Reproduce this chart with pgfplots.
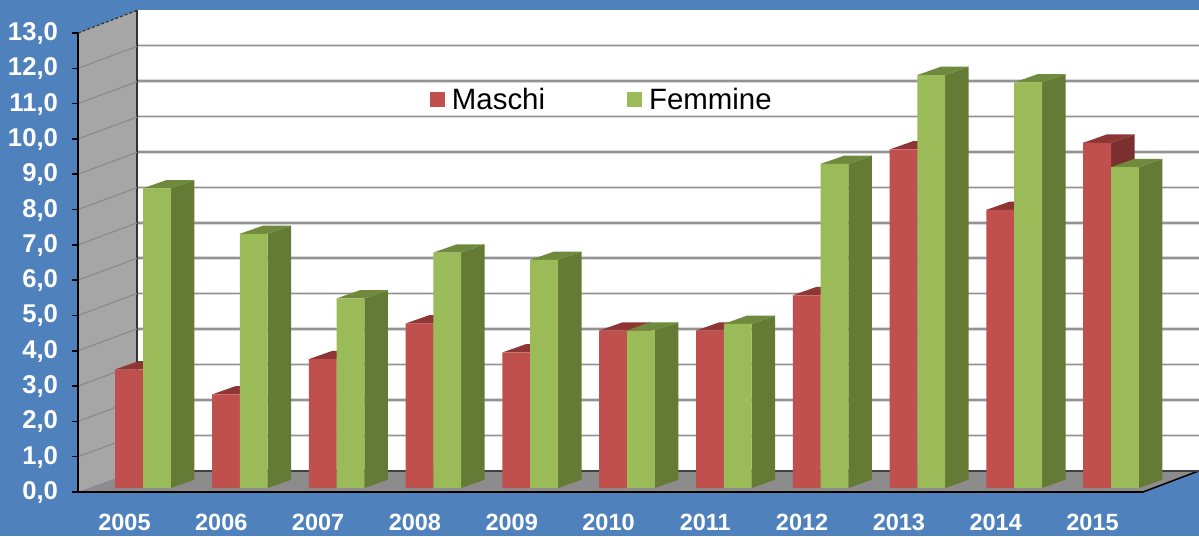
\documentclass[border=0pt]{standalone}
\usepackage{fontspec}
\setmainfont{Liberation Sans}
\usepackage{pgfplots}
\usepackage{pgfplotstable}
\pgfplotsset{compat=1.18}

\definecolor{sfondo}{HTML}{4F81BD}
\definecolor{rosso}{HTML}{C0504D}
\definecolor{rossoS}{HTML}{7B2F2E}
\definecolor{rossoT}{HTML}{8F3634}
\definecolor{verde}{HTML}{9BBB59}
\definecolor{verdeS}{HTML}{647A35}
\definecolor{verdeT}{HTML}{6F8A3C}
\definecolor{parete}{HTML}{A6A6A6}
\definecolor{pavimento}{HTML}{8C8C8C}

\pgfplotstableread{
year maschi femmine
2005 3.36 8.49
2006 2.65 7.20
2007 3.65 5.37
2008 4.66 6.67
2009 3.84 6.46
2010 4.46 4.46
2011 4.46 4.65
2012 5.46 9.18
2013 9.59 11.70
2014 7.88 11.49
2015 9.78 9.09
}\dati

% larghezza barra e profondita' in unita' degli assi
\def\bw{0.2872}
\def\dx{0.2428}
\def\dy{0.235}

\begin{document}
\begin{tikzpicture}
\useasboundingbox (0pt,0pt) rectangle (1199pt,536pt);
\fill[sfondo] (0pt,0pt) rectangle (1199pt,536pt);

% parete di fondo con griglia
\begin{axis}[
  name=fondo, at={(137pt,65pt)}, anchor=south west,
  scale only axis, width=1062pt, height=461pt,
  xmin=0, xmax=1, ymin=0, ymax=13,
  xtick=\empty, ytick={1,2,...,12}, yticklabels={},
  major tick length=0pt,
  ymajorgrids, grid style={gray!85!white, line width=1.6pt, preaction={draw, gray!30!white, line width=3.6pt}},
  axis line style={draw=none},
  axis background/.style={fill=white},
]
\end{axis}

% parete laterale, pavimento, assi
\begin{axis}[
  at={(78pt,44pt)}, anchor=south west,
  scale only axis, width=1065pt, height=459pt,
  xmin=2004.3285, xmax=2015.3306, ymin=0, ymax=13,
  clip=false, axis on top,
  axis lines=left, axis line style={-, black, line width=2.5pt},
  xtick={2005,2006,...,2015}, ytick={0,1,...,13},
  x tick style={draw=none}, y tick style={black, line width=1.5pt},
  tick align=outside, major tick length=6pt,
  tick label style={white, font=\bfseries},
  xticklabel style={font=\bfseries\fontsize{23.5}{24}\selectfont, xshift=-18.5pt, yshift=-13pt,
    /pgf/number format/.cd, 1000 sep={}, assume math mode=true},
  yticklabel style={font=\bfseries\fontsize{25.7}{26}\selectfont, xshift=-10.5pt, yshift=-0.5pt,
    /pgf/number format/.cd, fixed, fixed zerofill, precision=1, use comma, assume math mode=true},
]
\addplot[fill=parete, draw=none] coordinates {(2004.3285,0) (2004.938,0.6) (2004.938,13.64) (2004.3285,13)} --cycle;
\addplot[black!80, line width=1.2pt] coordinates {(2004.938,0.6) (2004.938,13.64)};
\addplot[black!80, line width=1.2pt, densely dashed] coordinates {(2004.3285,13) (2004.938,13.64)};
\addplot[fill=pavimento, draw=none] coordinates {(2004.3285,0) (2004.938,0.6) (2015.909,0.6) (2015.3306,0)} --cycle;
\addplot[black, line width=1.5pt] coordinates {(2015.3306,0) (2015.909,0.6)};
\addplot[black!75, line width=1.5pt] coordinates {(2004.938,0.6) (2015.909,0.6)};
\foreach \v in {1,...,12} {
  \pgfmathsetmacro\w{\v+0.62}
  \addplot[black!45, line width=1.2pt] coordinates {(2004.3285,\v) (2004.938,\w)};
}
\end{axis}

% barre: le facce frontali partono da y=488 px
\begin{axis}[
  at={(78pt,44pt)}, anchor=south west,
  scale only axis, width=1065pt, height=459pt,
  xmin=2004.3285, xmax=2015.3306, ymin=-0.1133, ymax=12.89,
  clip=false, hide axis, no marks,
  legend columns=2,
  legend style={draw=none, fill=none, at={(0.3303,0.855)}, anchor=west,
    font=\fontsize{29.4}{30}\selectfont, inner sep=0pt,
    /tikz/every even column/.append style={column sep=80pt}},
  legend cell align=left,
  legend image code/.code={\fill[#1] (0pt,-7.5pt) rectangle (15pt,7.5pt);},
]
\foreach \i in {0,...,10} {
  \pgfplotstablegetelem{\i}{year}\of\dati \let\yr\pgfplotsretval
  \pgfplotstablegetelem{\i}{maschi}\of\dati \let\v\pgfplotsretval
  \pgfmathsetmacro\xl{\yr-\bw}
  \pgfmathsetmacro\xr{\yr}
  \pgfmathsetmacro\xa{\xl+\dx}
  \pgfmathsetmacro\xb{\xr+\dx}
  \pgfmathsetmacro\vt{\v+\dy}
  \addplot[forget plot, fill=rossoS, draw=none] coordinates {(\xr,0) (\xb,\dy) (\xb,\vt) (\xr,\v)} --cycle;
  \addplot[forget plot, fill=rossoT, draw=none] coordinates {(\xl,\v) (\xa,\vt) (\xb,\vt) (\xr,\v)} --cycle;
}
\addplot[ybar, bar width=27.8pt, bar shift=-13.9pt, fill=rosso, draw=none] table[x=year, y=maschi] {\dati};
\addlegendentry{\hspace{5pt}Maschi}
\foreach \i in {0,...,10} {
  \pgfplotstablegetelem{\i}{year}\of\dati \let\yr\pgfplotsretval
  \pgfplotstablegetelem{\i}{femmine}\of\dati \let\v\pgfplotsretval
  \pgfmathsetmacro\xl{\yr}
  \pgfmathsetmacro\xr{\yr+\bw}
  \pgfmathsetmacro\xa{\xl+\dx}
  \pgfmathsetmacro\xb{\xr+\dx}
  \pgfmathsetmacro\vt{\v+\dy}
  \addplot[forget plot, fill=verdeS, draw=none] coordinates {(\xr,0) (\xb,\dy) (\xb,\vt) (\xr,\v)} --cycle;
  \addplot[forget plot, fill=verdeT, draw=none] coordinates {(\xl,\v) (\xa,\vt) (\xb,\vt) (\xr,\v)} --cycle;
}
\addplot[ybar, bar width=27.8pt, bar shift=13.9pt, fill=verde, draw=none] table[x=year, y=femmine] {\dati};
\addlegendentry{\hspace{5pt}Femmine}
\end{axis}
\end{tikzpicture}
\end{document}
